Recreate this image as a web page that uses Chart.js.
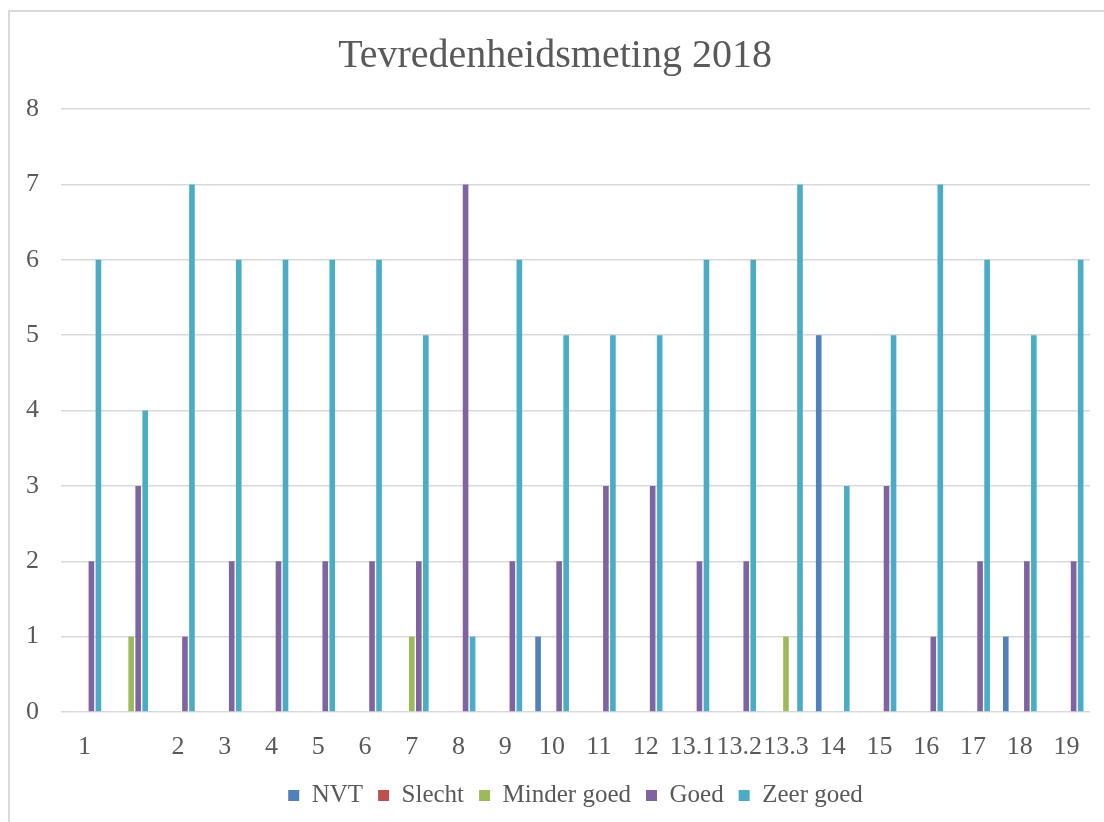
<!DOCTYPE html>
<html>
<head>
<meta charset="utf-8">
<script src="https://cdn.jsdelivr.net/npm/chart.js@4"></script>
<style>
  html, body { margin: 0; padding: 0; background: #fff; }
  #frame {
    position: absolute; left: 8px; top: 10px; width: 1200px; height: 900px;
    border-left: 2px solid #d9d9d9; border-top: 2px solid #d9d9d9;
  }
  #wrap { position: absolute; left: 0; top: 0; width: 1104px; height: 822px; }
</style>
</head>
<body>
<div id="frame"></div>
<div id="wrap"><canvas id="surveyChart"></canvas></div>
<script>
const categories = ["1", "", "2", "3", "4", "5", "6", "7", "8", "9", "10", "11", "12", "13.1", "13.2", "13.3", "14", "15", "16", "17", "18", "19"];
const nvt        = [0, 0, 0, 0, 0, 0, 0, 0, 0, 0, 1, 0, 0, 0, 0, 0, 5, 0, 0, 0, 1, 0];
const slecht     = [0, 0, 0, 0, 0, 0, 0, 0, 0, 0, 0, 0, 0, 0, 0, 0, 0, 0, 0, 0, 0, 0];
const minderGoed = [0, 1, 0, 0, 0, 0, 0, 1, 0, 0, 0, 0, 0, 0, 0, 1, 0, 0, 0, 0, 0, 0];
const goed       = [2, 3, 1, 2, 2, 2, 2, 2, 7, 2, 2, 3, 3, 2, 2, 0, 0, 3, 1, 2, 2, 2];
const zeerGoed   = [6, 4, 7, 6, 6, 6, 6, 5, 1, 6, 5, 5, 5, 6, 6, 7, 3, 5, 7, 6, 5, 6];
const yTicks = [0, 1, 2, 3, 4, 5, 6, 7, 8];

const textColor = "#595959";
const fontFamily = "'Liberation Serif', serif";

function series(label, data, color) {
  return { label, data, backgroundColor: color, borderWidth: 0 };
}

document.addEventListener("DOMContentLoaded", () => {
  const context = document.getElementById("surveyChart");
  new Chart(context, {
    type: "bar",
    data: {
      labels: categories,
      datasets: [
        series("NVT", nvt, "#4f81bd"),
        series("Slecht", slecht, "#c0504d"),
        series("Minder goed", minderGoed, "#9bbb59"),
        series("Goed", goed, "#8064a2"),
        series("Zeer goed", zeerGoed, "#4bacc6"),
      ],
    },
    options: {
      responsive: true,
      maintainAspectRatio: false,
      animation: false,
      categoryPercentage: 0.75,
      barPercentage: 0.8,
      layout: { padding: { left: 20, right: 14, top: 0, bottom: 4 } },
      plugins: {
        tooltip: { enabled: false },
        title: {
          display: true,
          text: "Tevredenheidsmeting 2018",
          color: textColor,
          font: { family: fontFamily, size: 40, weight: "normal" },
          padding: { top: 32, bottom: 29 },
        },
        legend: {
          position: "bottom",
          fullSize: false,
          labels: {
            color: textColor,
            font: { family: fontFamily, size: 25 },
            boxWidth: 11,
            boxHeight: 11,
            padding: 15,
          },
        },
      },
      scales: {
        x: {
          grid: { display: false },
          border: { display: false },
          ticks: {
            color: textColor,
            font: { family: fontFamily, size: 26 },
            autoSkip: false,
            maxRotation: 0,
            padding: 12,
          },
          afterFit: (scale) => { scale.height = 56; },
        },
        y: {
          min: yTicks[0],
          max: yTicks[yTicks.length - 1],
          border: { display: false },
          grid: { color: "#d9d9d9", lineWidth: 1.5, drawTicks: false },
          afterBuildTicks: (scale) => { scale.ticks = yTicks.map((value) => ({ value })); },
          ticks: {
            color: textColor,
            font: { family: fontFamily, size: 26 },
            padding: 22,
          },
          afterFit: (scale) => { scale.width = 41; },
        },
      },
    },
  });
});
</script>
</body>
</html>
